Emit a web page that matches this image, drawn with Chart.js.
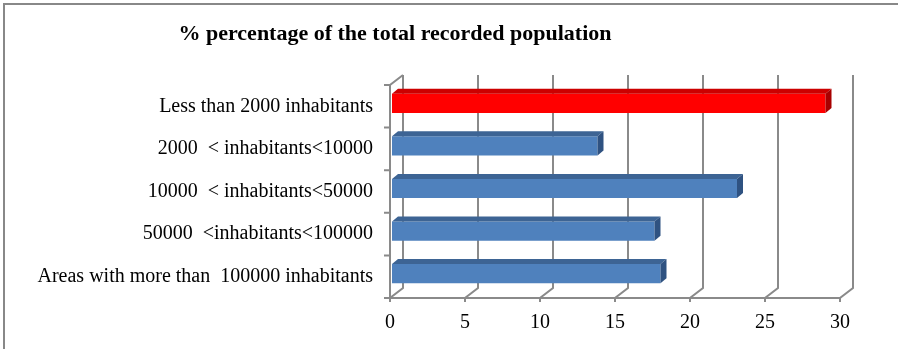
<!DOCTYPE html>
<html lang="en">
<head>
<meta charset="UTF-8">
<title>Recorded population</title>
<script src="https://cdn.jsdelivr.net/npm/chart.js"></script>
<style>
    body {
        margin: 0;
        background: #ffffff;
    }

    .chart-box {
        position: relative;
        width: 898px;
        height: 349px;
    }
</style>
</head>
<body>
<div class="chart-box"><canvas id="popChart"></canvas></div>
<script>
    const chartTitle = '% percentage of the total recorded population';
    const categories = [
        'Less than 2000 inhabitants',
        '2000  < inhabitants<10000',
        '10000  < inhabitants<50000',
        '50000  <inhabitants<100000',
        'Areas with more than  100000 inhabitants'
    ];
    const shares = [28.9, 13.7, 23.0, 17.5, 17.9];
    const xTicks = [0, 5, 10, 15, 20, 25, 30];

    // first bar highlighted in red, the rest in blue
    const faceColor = i => i === 0 ? '#ff0000' : '#4f81bd';
    const topColor = i => i === 0 ? '#cc0000' : '#3d6494';
    const sideColor = i => i === 0 ? '#a80000' : '#2f5281';

    const WALL_DX = 13, WALL_DY = 10;   // depth of the back wall
    const BAR_DX = 6, BAR_DY = 5;       // depth of each bar
    const SERIF = '"Liberation Serif", "Times New Roman", serif';

    const pseudo3d = {
        id: 'pseudo3d',
        beforeDraw(chart) {
            const ctx = chart.ctx;
            ctx.save();
            // frame on top and left edge
            ctx.strokeStyle = '#888888';
            ctx.lineWidth = 2;
            ctx.beginPath();
            ctx.moveTo(4, chart.height);
            ctx.lineTo(4, 4);
            ctx.lineTo(chart.width, 4);
            ctx.stroke();
            // title
            ctx.font = 'bold 22px ' + SERIF;
            ctx.fillStyle = '#000000';
            ctx.textAlign = 'center';
            ctx.textBaseline = 'middle';
            ctx.fillText(chartTitle, 395, 34);
            ctx.restore();
        },
        beforeDatasetsDraw(chart) {
            const { ctx, chartArea: a, scales: { x, y } } = chart;
            ctx.save();
            ctx.strokeStyle = '#8a8a8a';
            ctx.lineWidth = 2;
            ctx.beginPath();
            xTicks.forEach(v => {
                const px = x.getPixelForValue(v);
                ctx.moveTo(px + WALL_DX, a.top - WALL_DY);
                ctx.lineTo(px + WALL_DX, a.bottom - WALL_DY);
                ctx.lineTo(px, a.bottom);
                ctx.lineTo(px, a.bottom + 4);
            });
            // floor front edge
            ctx.moveTo(a.left, a.bottom);
            ctx.lineTo(a.right, a.bottom);
            // left wall
            ctx.moveTo(a.left, a.bottom);
            ctx.lineTo(a.left, a.top);
            ctx.lineTo(a.left + WALL_DX, a.top - WALL_DY);
            // category ticks
            const band = (y.bottom - y.top) / categories.length;
            for (let i = 0; i <= categories.length; i++) {
                const py = y.top + i * band;
                ctx.moveTo(a.left - 6, py);
                ctx.lineTo(a.left, py);
            }
            ctx.stroke();
            ctx.restore();

            // bars sit a little inside the box
            ctx.save();
            ctx.translate(2, -3);
        },
        afterDatasetsDraw(chart) {
            const ctx = chart.ctx;
            chart.getDatasetMeta(0).data.forEach((bar, i) => {
                const { x: bx, y: by, base, height } = bar.getProps(['x', 'y', 'base', 'height'], true);
                const top = by - height / 2;
                const bottom = by + height / 2;

                ctx.fillStyle = topColor(i);
                ctx.beginPath();
                ctx.moveTo(base, top);
                ctx.lineTo(base + BAR_DX, top - BAR_DY);
                ctx.lineTo(bx + BAR_DX, top - BAR_DY);
                ctx.lineTo(bx, top);
                ctx.closePath();
                ctx.fill();

                ctx.fillStyle = sideColor(i);
                ctx.beginPath();
                ctx.moveTo(bx, top);
                ctx.lineTo(bx + BAR_DX, top - BAR_DY);
                ctx.lineTo(bx + BAR_DX, bottom - BAR_DY);
                ctx.lineTo(bx, bottom);
                ctx.closePath();
                ctx.fill();
            });
            ctx.restore();
        }
    };

    new Chart(document.getElementById('popChart'), {
        type: 'bar',
        data: {
            labels: categories,
            datasets: [{
                data: shares,
                backgroundColor: shares.map((v, i) => faceColor(i)),
                borderWidth: 0,
                categoryPercentage: 1,
                barPercentage: 0.45
            }]
        },
        options: {
            indexAxis: 'y',
            responsive: true,
            maintainAspectRatio: false,
            animation: false,
            layout: {
                padding: { top: 85, right: 58, bottom: 0, left: 0 }
            },
            scales: {
                x: {
                    min: 0,
                    max: 30,
                    afterFit: s => { s.height = 51; },
                    afterBuildTicks: s => { s.ticks = xTicks.map(v => ({ value: v })); },
                    grid: { display: false, drawTicks: false },
                    border: { display: false },
                    ticks: {
                        padding: 13,
                        color: '#000000',
                        font: { family: SERIF, size: 20 }
                    }
                },
                y: {
                    afterFit: s => { s.width = 390; },
                    grid: { display: false, drawTicks: false },
                    border: { display: false },
                    ticks: {
                        padding: 17,
                        color: '#000000',
                        font: { family: SERIF, size: 20 }
                    }
                }
            },
            plugins: {
                legend: { display: false },
                title: { display: false },
                tooltip: { enabled: false }
            }
        },
        plugins: [pseudo3d]
    });
</script>
</body>
</html>
